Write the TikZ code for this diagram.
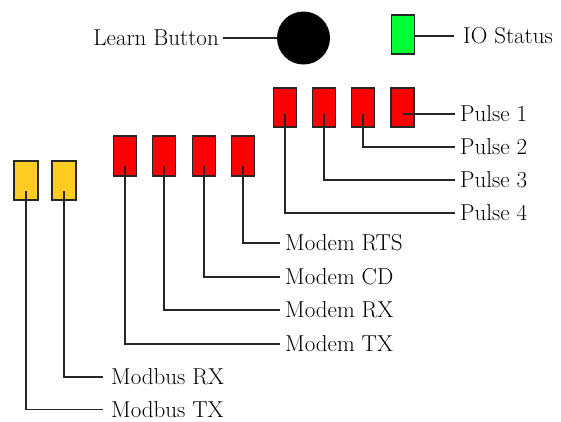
\documentclass[tikz,border=0pt]{standalone}
\usepackage{fontspec}
\usetikzlibrary{calc}

\definecolor{ledred}{HTML}{FF0000}
\definecolor{ledyellow}{HTML}{FFCC22}
\definecolor{ledgreen}{HTML}{00FF33}

\tikzset{
    led/.style = {draw = black!85, line width = 1.5pt, minimum width = 23pt,
                  minimum height = 39pt, inner sep = 0pt},
    lbl/.style = {anchor = west, inner xsep = 5pt, inner ysep = 0pt,
                  font = \fontsize{23}{27}\selectfont},
    wire/.style = {line width = 1.4pt, black!85},
}

\begin{document}
\begin{tikzpicture}[x = 1pt, y = -1pt]
        \useasboundingbox (0, 0) rectangle (561, 421);
        % top row: button and status led
        \node [circle, fill = black, minimum size = 53pt, inner sep = 0pt] (btn) at (303.5, 38) {};
        \node [lbl, anchor = east, inner xsep = 4pt] (learn) at (223, 38) {Learn Button};
        \draw [wire] (learn.east) -- (btn.west);
        \node [led, fill = ledgreen] (io) at (403, 34.5) {};
        \node [lbl, inner xsep = 9pt] (iolbl) at (454, 36) {IO Status};
        \draw [wire] (iolbl.west -| io.east) -- (iolbl.west);

        % pulse leds
        \node [led, fill = ledred] (p4) at (285, 107.5) {};
        \node [led, fill = ledred] (p3) at (324, 107.5) {};
        \node [led, fill = ledred] (p2) at (363, 107.5) {};
        \node [led, fill = ledred] (p1) at (402.5, 107.5) {};
        \node [lbl] (pl1) at (455, 114) {Pulse 1};
        \node [lbl] (pl2) at (455, 147) {Pulse 2};
        \node [lbl] (pl3) at (455, 180) {Pulse 3};
        \node [lbl] (pl4) at (455, 213) {Pulse 4};
        \draw [wire] ($(p1.center) + (0, 6.5)$) -- (pl1.west);
        \draw [wire] ($(p2.center) + (0, 6.5)$) |- (pl2.west);
        \draw [wire] ($(p3.center) + (0, 6.5)$) |- (pl3.west);
        \draw [wire] ($(p4.center) + (0, 6.5)$) |- (pl4.west);

        % modem leds
        \node [led, fill = ledred, minimum height = 40pt] (mtx) at (125, 156) {};
        \node [led, fill = ledred, minimum height = 40pt] (mrx) at (164, 156) {};
        \node [led, fill = ledred, minimum height = 40pt] (mcd) at (204, 156) {};
        \node [led, fill = ledred, minimum height = 40pt] (mrts) at (243, 156) {};
        \node [lbl] (lrts) at (280, 243) {Modem RTS};
        \node [lbl] (lcd) at (280, 277) {Modem CD};
        \node [lbl] (lrx) at (280, 310) {Modem RX};
        \node [lbl] (ltx) at (280, 344) {Modem TX};
        \draw [wire] ($(mrts.center) + (0, 10)$) |- (lrts.west);
        \draw [wire] ($(mcd.center) + (0, 10)$) |- (lcd.west);
        \draw [wire] ($(mrx.center) + (0, 10)$) |- (lrx.west);
        \draw [wire] ($(mtx.center) + (0, 10)$) |- (ltx.west);

        % modbus leds
        \node [led, fill = ledyellow, minimum width = 24pt] (btx) at (26, 180.5) {};
        \node [led, fill = ledyellow, minimum width = 24pt] (brx) at (64, 180.5) {};
        \node [lbl, inner xsep = 8pt] (lbrx) at (103, 377) {Modbus RX};
        \node [lbl, inner xsep = 8pt] (lbtx) at (103, 409.5) {Modbus TX};
        \draw [wire] ($(brx.center) + (0, 10.5)$) |- (lbrx.west);
        \draw [wire] ($(btx.center) + (0, 10.5)$) |- (lbtx.west);
\end{tikzpicture}
\end{document}
